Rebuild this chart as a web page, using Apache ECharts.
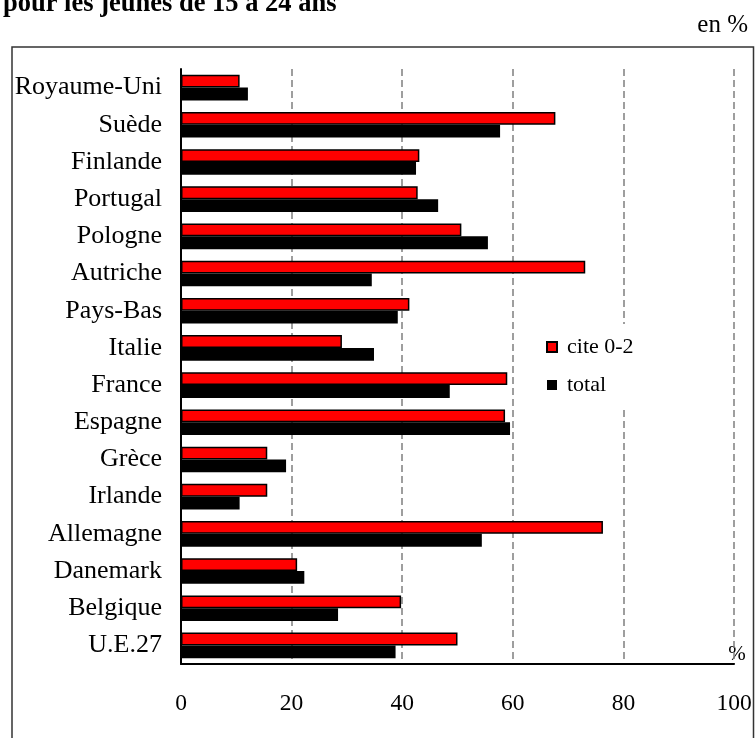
<!DOCTYPE html>
<html>
<head>
<meta charset="utf-8">
<script src="https://cdn.jsdelivr.net/npm/echarts@6/dist/echarts.min.js"></script>
<style>html,body{margin:0;padding:0;background:#fff}#c{width:755px;height:738px}</style>
</head>
<body>
<div id="c"></div>
<script>
// Categories listed bottom to top
const categories = ['U.E.27','Belgique','Danemark','Allemagne','Irlande','Grèce','Espagne','France','Italie','Pays-Bas','Autriche','Pologne','Portugal','Finlande','Suède','Royaume-Uni'];
const citeValues = [50.0, 39.8, 21.0, 76.3, 15.6, 15.6, 58.6, 59.0, 29.1, 41.3, 73.1, 50.7, 42.8, 43.1, 67.7, 10.6];
const totalValues = [38.8, 28.4, 22.3, 54.4, 10.6, 19.0, 59.5, 48.6, 34.9, 39.2, 34.5, 55.5, 46.5, 42.5, 57.7, 12.1];
const xTicks = [0, 20, 40, 60, 80, 100];
const seriesNames = ['cite 0-2', 'total'];
const titleText = 'pour les jeunes de 15 à 24 ans';

const FONT = '"Liberation Serif", "Times New Roman", serif';
const chart = echarts.init(document.getElementById('c'), null, {renderer: 'canvas'});
chart.setOption({
  animation: false,
  backgroundColor: '#fff',
  grid: {left: 181, right: 21, top: 69, bottom: 74, containLabel: false},
  xAxis: {
    type: 'value', min: xTicks[0], max: xTicks[xTicks.length - 1], interval: 20,
    axisLine: {show: true, onZero: false, lineStyle: {color: '#000', width: 2}},
    axisTick: {show: false},
    axisLabel: {fontFamily: FONT, fontSize: 23.5, color: '#000', margin: 28},
    splitLine: {show: true, lineStyle: {color: '#7f7f7f', width: 1.5, type: [7, 4]}}
  },
  yAxis: {
    type: 'category', data: categories,
    axisLine: {show: true, lineStyle: {color: '#000', width: 2}},
    axisTick: {show: false},
    axisLabel: {fontFamily: FONT, fontSize: 26, color: '#000', margin: 19},
    splitLine: {show: false}
  },
  legend: {
    orient: 'vertical', left: 536, top: 324,
    data: seriesNames,
    itemWidth: 10, itemHeight: 10, itemGap: 16,
    padding: [12, 10, 12, 10],
    backgroundColor: '#fff',
    icon: 'rect',
    textStyle: {fontFamily: FONT, fontSize: 22, color: '#000', padding: [0, 0, 0, 5]}
  },
  series: [
    {name: seriesNames[0], type: 'bar', data: citeValues, barWidth: 12.8, barGap: '0%',
      itemStyle: {color: '#ff0000', borderColor: '#000', borderWidth: 1.5}},
    {name: seriesNames[1], type: 'bar', data: totalValues, barWidth: 12.8, barGap: '0%',
      itemStyle: {color: '#000', borderColor: '#000', borderWidth: 0}}
  ],
  graphic: [
    {type: 'rect', shape: {x: 12, y: 47, width: 741.5, height: 720}, z: -1,
      style: {fill: 'none', stroke: '#333', lineWidth: 1.5}},
    {type: 'text', x: 3, y: 4, style: {text: titleText, font: 'bold 26.5px ' + FONT, fill: '#000', align: 'left', verticalAlign: 'middle'}},
    {type: 'text', x: 748, y: 25, style: {text: 'en %', font: '25px ' + FONT, fill: '#000', align: 'right', verticalAlign: 'middle'}},
    {type: 'text', x: 737, y: 654, style: {text: '%', font: '21px ' + FONT, fill: '#000', align: 'center', verticalAlign: 'middle'}}
  ]
});
</script>
</body>
</html>
